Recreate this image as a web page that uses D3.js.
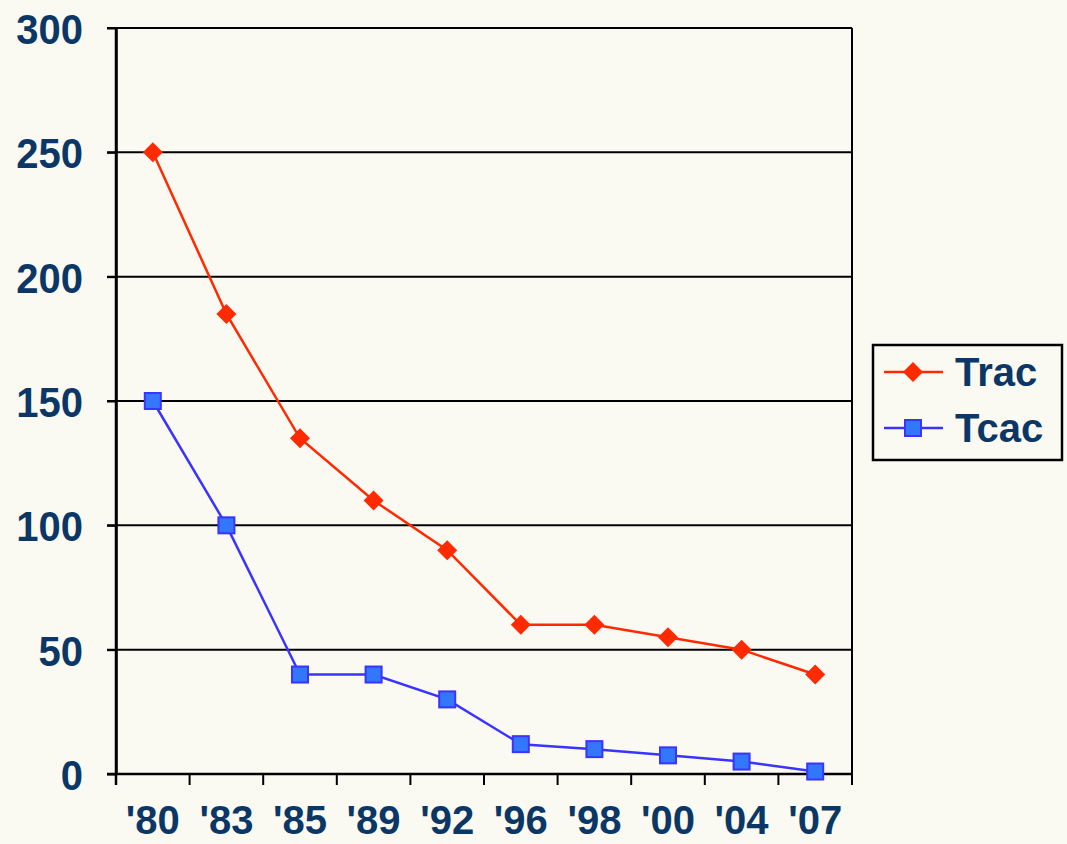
<!DOCTYPE html>
<html><head><meta charset="utf-8">
<script src="https://cdn.jsdelivr.net/npm/d3@7"></script>
<style>body{margin:0;background:#fbfaf2;}svg{display:block;}</style>
</head><body>
<script>
const categories = ["'80","'83","'85","'89","'92","'96","'98","'00","'04","'07"];
const tracValues = [250,185,135,110,90,60,60,55,50,40];
const tcacValues = [150,100,40,40,30,12,10,7.5,5,1];
const yTicks = [0,50,100,150,200,250,300];
const seriesNames = ["Trac","Tcac"];

(function(){
const W=1067,H=844;
const svg=d3.select("body").append("svg").attr("width",W).attr("height",H);
svg.append("rect").attr("width",W).attr("height",H).attr("fill","#fbfaf2");
const pL=116,pR=852,pT=28,pB=774;
const x=d3.scaleBand().domain(categories).range([pL,pR]);
const y=d3.scaleLinear().domain([0,300]).range([pB,pT]);
const navy="#0b3766";
const font="'Liberation Sans',Arial,sans-serif";

svg.append("g").selectAll("line").data(yTicks.filter(d=>d>0)).join("line")
 .attr("x1",pL-9).attr("x2",pR).attr("y1",d=>y(d)).attr("y2",d=>y(d))
 .attr("stroke","#000").attr("stroke-width",2);
svg.append("line").attr("x1",pR).attr("x2",pR).attr("y1",pT).attr("y2",pB+11).attr("stroke","#000").attr("stroke-width",2);

const ya=svg.append("g").attr("transform",`translate(${pL},0)`)
 .call(d3.axisLeft(y).tickValues(yTicks).tickSize(9).tickPadding(24).tickSizeOuter(0));
ya.select(".domain").attr("stroke","#000").attr("stroke-width",2.5);
ya.selectAll(".tick line").attr("stroke","#000").attr("stroke-width",2);
ya.selectAll("text").attr("font-family",font).attr("font-weight","bold").attr("font-size",40).attr("fill",navy).attr("dy","0.36em")
 .attr("transform","scale(1,1.08)");

const xa=svg.append("g").attr("transform",`translate(0,${pB})`)
 .call(d3.axisBottom(x).tickSize(0).tickPadding(32).tickSizeOuter(0));
xa.select(".domain").attr("stroke","#000").attr("stroke-width",2.5).attr("d",`M${pL-9},0H${pR}`);
xa.selectAll("text").attr("font-family",font).attr("font-weight","bold").attr("font-size",40).attr("fill",navy).attr("dy","0.71em");
xa.selectAll(".bound").data(categories.map(c=>x(c)).concat([pR])).join("line")
 .attr("x1",d=>d).attr("x2",d=>d).attr("y1",0).attr("y2",11).attr("stroke","#000").attr("stroke-width",2);
svg.append("line").attr("x1",pL).attr("x2",pL).attr("y1",pT).attr("y2",pB+11).attr("stroke","#000").attr("stroke-width",2.5);

const cx=d=>x(d)+x.bandwidth()/2;
const line=d3.line().x(d=>cx(d[0])).y(d=>y(d[1]));
const trac=categories.map((c,i)=>[c,tracValues[i]]);
const tcac=categories.map((c,i)=>[c,tcacValues[i]]);

svg.append("path").datum(tcac).attr("d",line).attr("fill","none").attr("stroke","#3b33ff").attr("stroke-width",2.5);
svg.append("path").datum(trac).attr("d",line).attr("fill","none").attr("stroke","#ff2a00").attr("stroke-width",2.5);

const diamond=(g,px,py)=>g.append("path").attr("d",`M${px},${py-10}L${px+10},${py}L${px},${py+10}L${px-10},${py}Z`).attr("fill","#ff2a00");
const square=(g,px,py)=>g.append("rect").attr("x",px-8).attr("y",py-8).attr("width",16).attr("height",16).attr("fill","#3377ff").attr("stroke","#3b33ff").attr("stroke-width",2);

const mk=svg.append("g");
tcac.forEach(d=>square(mk,cx(d[0]),y(d[1])));
trac.forEach(d=>diamond(mk,cx(d[0]),y(d[1])));

const lg=svg.append("g");
lg.append("rect").attr("x",873).attr("y",345).attr("width",189).attr("height",115).attr("fill","none").attr("stroke","#000").attr("stroke-width",2.5);
const rows=[{n:seriesNames[0],c:"#ff2a00",yy:372},{n:seriesNames[1],c:"#3b33ff",yy:428}];
rows.forEach((r,i)=>{
  lg.append("line").attr("x1",884).attr("x2",943).attr("y1",r.yy).attr("y2",r.yy).attr("stroke",r.c).attr("stroke-width",2.5);
  if(i===0) diamond(lg,913,r.yy); else square(lg,913,r.yy);
  lg.append("text").attr("x",955).attr("y",r.yy).attr("dy","0.36em").text(r.n)
   .attr("font-family",font).attr("font-weight","bold").attr("font-size",40).attr("fill",navy);
});
})();
</script>
</body></html>
